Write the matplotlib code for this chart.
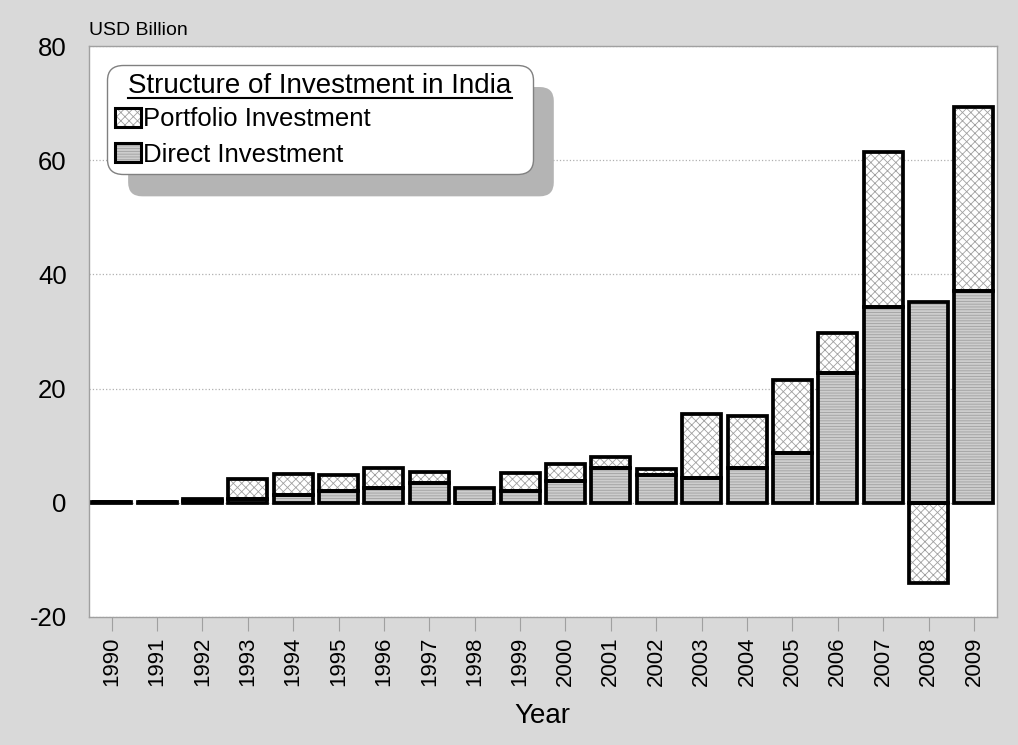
import matplotlib
matplotlib.use('Agg')
import matplotlib.pyplot as plt
import numpy as np
from matplotlib.patches import Patch, FancyBboxPatch
from matplotlib.lines import Line2D
from matplotlib.legend_handler import HandlerTuple
from matplotlib.transforms import IdentityTransform

# data (USD billion)
years = [str(y) for y in range(1990, 2010)]
direct = [0.1, 0.1, 0.3, 0.6, 1.3, 2.1, 2.6, 3.5, 2.6, 2.1,
          3.8, 6.0, 4.9, 4.3, 6.0, 8.8, 22.7, 34.3, 35.1, 37.1]
portfolio = [0.0, 0.0, 0.3, 3.6, 3.8, 2.8, 3.5, 1.9, -0.1, 3.1,
             3.0, 2.0, 1.0, 11.3, 9.2, 12.7, 7.1, 27.2, -14.0, 32.3]

plt.rcParams['font.family'] = ['Liberation Sans', 'DejaVu Sans']
plt.rcParams['hatch.linewidth'] = 0.6
plt.rcParams['axes.unicode_minus'] = False

fig = plt.figure(figsize=(10.18, 7.45), dpi=100, facecolor='#d9d9d9')
ax = fig.add_axes([0.0874, 0.172, 0.8916, 0.766])

x = np.arange(len(years))
direct = np.array(direct)
portfolio = np.array(portfolio)
bottom_p = np.where(portfolio >= 0, direct, 0)
w = 0.86
hatch_col = '#a0a0a0'

# hatched fills
ax.bar(x, direct, w, color='#cdcdcd', edgecolor=hatch_col, hatch='------',
       linewidth=0, zorder=2)
ax.bar(x, portfolio, w, bottom=bottom_p, color='white', edgecolor=hatch_col,
       hatch='xxxx', linewidth=0, zorder=2)
# black outlines
ax.bar(x, direct, w, fill=False, edgecolor='black', linewidth=2.7,
       joinstyle='miter', zorder=3)
ax.bar(x, portfolio, w, bottom=bottom_p, fill=False, edgecolor='black',
       linewidth=2.7, joinstyle='miter', zorder=3)

ax.set_xlim(-0.5, len(years) - 0.5)
ax.set_ylim(-20, 80)
ax.set_yticks([-20, 0, 20, 40, 60, 80])
ax.set_xticks(x)
ax.set_xticklabels(years, rotation=90)
ax.yaxis.grid(True, color='#b0b0b0', linestyle=':', linewidth=0.9)
ax.set_axisbelow(True)
for s in ax.spines.values():
    s.set_color('#a0a0a0')
    s.set_linewidth(1)
ax.tick_params(axis='y', length=0, pad=16, labelsize=18.5)
ax.tick_params(axis='x', length=10, color='#a0a0a0', labelsize=16, pad=4)
ax.set_xlabel('Year', fontsize=20, labelpad=12)

ax.text(0, 1.012, 'USD Billion', transform=ax.transAxes, fontsize=14,
        ha='left', va='bottom')

# legend
h_p = (Patch(facecolor='white', edgecolor=hatch_col, hatch='xxxx', linewidth=0),
       Patch(fill=False, edgecolor='black', linewidth=2.2))
h_d = (Patch(facecolor='#cdcdcd', edgecolor=hatch_col, hatch='------', linewidth=0),
       Patch(fill=False, edgecolor='black', linewidth=2.2))
leg = ax.legend([h_p, h_d], ['Portfolio Investment', 'Direct Investment'],
                handler_map={tuple: HandlerTuple(ndivide=1, pad=0)},
                title='Structure of Investment in India', title_fontsize=20,
                fontsize=18.5, loc='upper left', mode='expand',
                bbox_to_anchor=(0.02, 0.5, 0.469, 0.467),
                borderaxespad=0, fancybox=True, framealpha=1,
                edgecolor='#808080', handlelength=1.0, handleheight=0.75,
                handletextpad=0.1, labelspacing=0.45, borderpad=0.3,
                alignment='center')
leg.get_frame().set_boxstyle('round', pad=0, rounding_size=0.6)
leg.get_frame().set_linewidth(1)
leg._legend_box.sep = 6

fig.canvas.draw()
renderer = fig.canvas.get_renderer()
bb = leg.get_window_extent(renderer)
shadow = FancyBboxPatch((bb.x0 + 21, bb.y0 - 22), bb.width, bb.height,
                        boxstyle='round,pad=0,rounding_size=14',
                        facecolor='#b4b4b4', edgecolor='none',
                        transform=IdentityTransform(), zorder=4)
ax.add_patch(shadow)
tb = leg.get_title().get_window_extent(renderer)
ax.add_line(Line2D([tb.x0, tb.x1], [tb.y0 + 1, tb.y0 + 1], color='black',
                   linewidth=1.5, transform=IdentityTransform(), zorder=6))

fig.savefig('out.png', dpi=100, facecolor=fig.get_facecolor())
